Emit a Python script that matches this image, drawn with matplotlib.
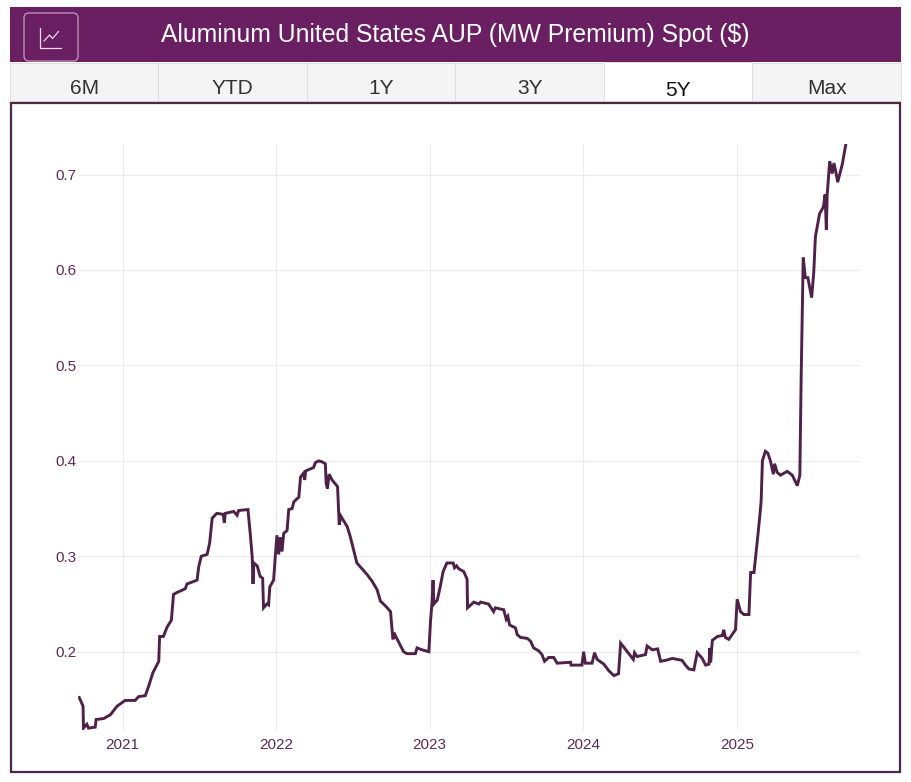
import pandas as pd
import matplotlib.pyplot as plt
from matplotlib.patches import Rectangle, FancyBboxPatch

plt.rcParams['font.family'] = ['Liberation Sans', 'DejaVu Sans']

title = 'Aluminum United States AUP (MW Premium) Spot ($)'
tabs = ['6M', 'YTD', '1Y', '3Y', '5Y', 'Max']
active_tab = '5Y'

dates = [
    '2020-09-20', '2020-09-29', '2020-09-30', '2020-10-08', '2020-10-12', '2020-10-28',
    '2020-10-30', '2020-11-17', '2020-12-03', '2020-12-19', '2021-01-07', '2021-01-31',
    '2021-02-08', '2021-02-24', '2021-03-04', '2021-03-14', '2021-03-28', '2021-03-30',
    '2021-04-08', '2021-04-17', '2021-04-27', '2021-05-02', '2021-05-10', '2021-05-30',
    '2021-06-03', '2021-06-27', '2021-07-01', '2021-07-07', '2021-07-21', '2021-07-27',
    '2021-08-02', '2021-08-13', '2021-08-28', '2021-08-31', '2021-09-02', '2021-09-22',
    '2021-09-30', '2021-10-04', '2021-10-26', '2021-11-01', '2021-11-05', '2021-11-07',
    '2021-11-09', '2021-11-17', '2021-11-24', '2021-11-30', '2021-12-02', '2021-12-10',
    '2021-12-14', '2021-12-17', '2021-12-26', '2021-12-30', '2022-01-03', '2022-01-07',
    '2022-01-11', '2022-01-15', '2022-01-19', '2022-01-27', '2022-01-31', '2022-02-08',
    '2022-02-12', '2022-02-24', '2022-02-28', '2022-03-07', '2022-03-10', '2022-03-12',
    '2022-03-15', '2022-03-31', '2022-04-04', '2022-04-12', '2022-04-20', '2022-04-28',
    '2022-04-30', '2022-05-03', '2022-05-07', '2022-05-14', '2022-05-27', '2022-05-31',
    '2022-06-04', '2022-06-19', '2022-06-26', '2022-07-04', '2022-07-12', '2022-07-24',
    '2022-08-05', '2022-08-17', '2022-08-29', '2022-09-06', '2022-09-18', '2022-09-30',
    '2022-10-04', '2022-10-06', '2022-10-08', '2022-10-16', '2022-10-31', '2022-11-08',
    '2022-11-28', '2022-12-02', '2022-12-14', '2022-12-30', '2023-01-03', '2023-01-07',
    '2023-01-09', '2023-01-11', '2023-01-19', '2023-01-26', '2023-02-02', '2023-02-11',
    '2023-02-26', '2023-03-01', '2023-03-06', '2023-03-11', '2023-03-23', '2023-03-31',
    '2023-04-01', '2023-04-16', '2023-04-28', '2023-05-02', '2023-05-21', '2023-06-02',
    '2023-06-06', '2023-06-26', '2023-07-02', '2023-07-06', '2023-07-10', '2023-07-24',
    '2023-07-28', '2023-08-05', '2023-08-21', '2023-08-29', '2023-09-05', '2023-09-17',
    '2023-09-25', '2023-10-01', '2023-10-11', '2023-10-23', '2023-10-31', '2023-12-02',
    '2023-12-03', '2023-12-29', '2024-01-02', '2024-01-06', '2024-01-22', '2024-01-28',
    '2024-02-03', '2024-02-19', '2024-03-02', '2024-03-14', '2024-03-25', '2024-03-30',
    '2024-04-06', '2024-04-18', '2024-04-29', '2024-05-02', '2024-05-08', '2024-05-28',
    '2024-06-01', '2024-06-13', '2024-06-26', '2024-07-03', '2024-07-15', '2024-07-31',
    '2024-08-23', '2024-08-31', '2024-09-08', '2024-09-20', '2024-09-28', '2024-10-10',
    '2024-10-18', '2024-10-26', '2024-10-28', '2024-10-30', '2024-11-03', '2024-11-15',
    '2024-11-27', '2024-11-30', '2024-12-04', '2024-12-12', '2024-12-28', '2025-01-01',
    '2025-01-09', '2025-01-17', '2025-01-29', '2025-02-02', '2025-02-10', '2025-02-16',
    '2025-02-19', '2025-02-24', '2025-02-27', '2025-03-02', '2025-03-09', '2025-03-15',
    '2025-03-21', '2025-03-28', '2025-03-31', '2025-04-06', '2025-04-14', '2025-04-30',
    '2025-05-12', '2025-05-24', '2025-05-30', '2025-06-02', '2025-06-07', '2025-06-12',
    '2025-06-18', '2025-06-27', '2025-07-02', '2025-07-06', '2025-07-16', '2025-07-25',
    '2025-07-29', '2025-08-01', '2025-08-03', '2025-08-09', '2025-08-15', '2025-08-19',
    '2025-08-23', '2025-08-28', '2025-09-08', '2025-09-16',
]
values = [
    0.152, 0.143, 0.120, 0.124, 0.120, 0.121,
    0.129, 0.130, 0.134, 0.143, 0.149, 0.149,
    0.153, 0.154, 0.164, 0.178, 0.190, 0.216,
    0.216, 0.226, 0.233, 0.260, 0.262, 0.266,
    0.271, 0.275, 0.289, 0.300, 0.302, 0.314,
    0.340, 0.345, 0.344, 0.335, 0.345, 0.347,
    0.343, 0.348, 0.349, 0.321, 0.300, 0.271,
    0.293, 0.290, 0.279, 0.277, 0.246, 0.250,
    0.249, 0.268, 0.275, 0.300, 0.322, 0.302,
    0.320, 0.305, 0.324, 0.327, 0.349, 0.350,
    0.357, 0.362, 0.383, 0.387, 0.380, 0.389,
    0.390, 0.393, 0.398, 0.400, 0.399, 0.397,
    0.376, 0.371, 0.386, 0.380, 0.373, 0.333,
    0.342, 0.331, 0.321, 0.307, 0.293, 0.287,
    0.281, 0.274, 0.265, 0.253, 0.248, 0.242,
    0.221, 0.213, 0.220, 0.213, 0.200, 0.198,
    0.198, 0.204, 0.202, 0.200, 0.232, 0.254,
    0.275, 0.250, 0.254, 0.268, 0.284, 0.293,
    0.293, 0.288, 0.290, 0.287, 0.284, 0.276,
    0.246, 0.252, 0.250, 0.252, 0.250, 0.242,
    0.246, 0.244, 0.234, 0.237, 0.228, 0.225,
    0.218, 0.215, 0.214, 0.211, 0.204, 0.201,
    0.197, 0.190, 0.194, 0.194, 0.188, 0.189,
    0.186, 0.186, 0.200, 0.188, 0.188, 0.199,
    0.192, 0.187, 0.180, 0.175, 0.177, 0.209,
    0.205, 0.198, 0.192, 0.199, 0.195, 0.197,
    0.206, 0.202, 0.203, 0.190, 0.191, 0.193,
    0.191, 0.186, 0.182, 0.181, 0.199, 0.193,
    0.186, 0.187, 0.204, 0.189, 0.212, 0.216,
    0.217, 0.223, 0.215, 0.213, 0.223, 0.255,
    0.242, 0.239, 0.239, 0.283, 0.283, 0.308,
    0.321, 0.343, 0.358, 0.400, 0.410, 0.408,
    0.400, 0.386, 0.397, 0.388, 0.385, 0.389,
    0.385, 0.374, 0.385, 0.484, 0.613, 0.592,
    0.592, 0.571, 0.597, 0.635, 0.659, 0.666,
    0.679, 0.642, 0.679, 0.714, 0.701, 0.712,
    0.704, 0.692, 0.711, 0.731,
]

y_ticks = [0.2, 0.3, 0.4, 0.5, 0.6, 0.7]
y_tick_labels = ['0.2', '0.3', '0.4', '0.5', '0.6', '0.7']
x_ticks = ['2021-01-01', '2022-01-01', '2023-01-01', '2024-01-01', '2025-01-01']
x_tick_labels = ['2021', '2022', '2023', '2024', '2025']

purple = '#6b1f63'
line_color = '#4e2248'
text_purple = '#5b2b55'
frame_color = '#4d2647'

W, H = 912, 782
fig = plt.figure(figsize=(W / 100, H / 100), dpi=100)

# background layer in pixel coordinates for header, tabs and frame
bg = fig.add_axes([0, 0, 1, 1])
bg.set_xlim(0, W)
bg.set_ylim(H, 0)
bg.axis('off')

bg.add_patch(Rectangle((10, 7), 891, 55, facecolor=purple, edgecolor='none'))
bg.add_patch(FancyBboxPatch((24, 13), 54, 48, boxstyle='round,pad=0,rounding_size=5',
                            facecolor=purple, edgecolor='#c79bc1', lw=0.9))
bg.plot([40.5, 40.5, 61], [28, 48, 48], color='#eedbeb', lw=0.9)
bg.plot([44, 49.5, 52.5, 58.5], [41, 35, 38.5, 31.5], color='#eedbeb', lw=0.9)
bg.text(455.5, 35, title, color='white', fontsize=17.8, ha='center', va='center')

tab_w = 891 / len(tabs)
for i, name in enumerate(tabs):
    x0 = 10 + i * tab_w
    active = name == active_tab
    bg.add_patch(Rectangle((x0, 62 if active else 63), tab_w, 39 if active else 38,
                           facecolor='white' if active else '#f4f4f4',
                           edgecolor='#dcdcdc', lw=0.6))
    bg.text(x0 + tab_w / 2, 90 if active else 88, name, fontsize=15,
            color='#111111' if active else '#333333', ha='center', va='center')

bg.add_patch(Rectangle((11, 103), 889, 669, facecolor='none', edgecolor=frame_color, lw=1.6))

# chart
ax = fig.add_axes([78 / W, 1 - 730 / H, 782 / W, 586 / H])
ax.set_facecolor('none')
ax.plot(pd.to_datetime(dates), values, color=line_color, lw=2.1, solid_joinstyle='miter')
ax.set_xlim(pd.Timestamp('2020-09-17'), pd.Timestamp('2025-10-20'))
ax.set_ylim(0.118, 0.732)
ax.set_yticks(y_ticks)
ax.set_yticklabels(y_tick_labels)
ax.set_xticks(pd.to_datetime(x_ticks))
ax.set_xticklabels(x_tick_labels)
ax.grid(True, color='#ebebeb', lw=0.8)
ax.set_axisbelow(True)
for s in ax.spines.values():
    s.set_visible(False)
ax.tick_params(axis='both', length=0, labelsize=11, labelcolor=text_purple)
ax.tick_params(axis='y', pad=1)
ax.tick_params(axis='x', pad=6)

fig.savefig('out.png', dpi=100)
